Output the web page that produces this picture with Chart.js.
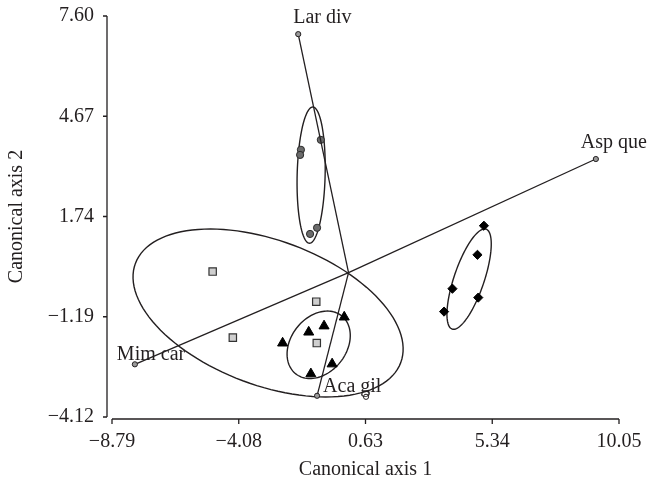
<!DOCTYPE html>
<html>
<head>
<meta charset="utf-8">
<script src="https://cdn.jsdelivr.net/npm/chart.js@4.4.1/dist/chart.umd.min.js"></script>
<style>
  html, body { margin: 0; padding: 0; background: #fff; }
  #wrap { width: 661px; height: 487px; }
</style>
</head>
<body>
<div id="wrap"><canvas id="cda"></canvas></div>
<script>
// Axis ticks
const xTicks = [-8.79, -4.08, 0.63, 5.34, 10.05];
const yTicks = [-4.12, -1.19, 1.74, 4.67, 7.60];

// Group scores (canonical axis 1 / 2)
const circleX = [-1.03, -1.77, -1.80, -1.17, -1.43];
const circleY = [3.98, 3.69, 3.54, 1.41, 1.23];
const squareX = [-5.05, -1.20, -4.30, -1.18];
const squareY = [0.13, -0.75, -1.80, -1.96];
const triangleX = [-2.45, -1.48, -0.91, -0.16, -0.61, -1.40];
const triangleY = [-1.96, -1.64, -1.46, -1.20, -2.57, -2.86];
const diamondX = [5.03, 4.79, 3.86, 4.82, 3.55];
const diamondY = [1.47, 0.62, -0.37, -0.63, -1.04];

// Species vectors (from origin)
const vectorOrigin = [0, 0.1];
const vectorNames = ['Lar div', 'Asp que', 'Mim car', 'Aca gil'];
const vectorX = [-1.87, 9.19, -7.94, -1.17];
const vectorY = [7.07, 3.42, -2.58, -3.50];
const extraX = [0.65];
const extraY = [-3.53];

// Group ellipses: centre and two conjugate semi-axis vectors (data units)
const ellipseCx = [-1.39, -2.99, -1.11, 4.48];
const ellipseCy = [2.95, -1.08, -2.01, -0.09];
const ellipseAx = [0.06, 4.93, 0.85, 0.63];
const ellipseAy = [1.99, -1.45, 0.85, 1.46];
const ellipseBx = [0.52, -0.94, 0.81, 0.53];
const ellipseBy = [0, -1.98, -0.50, -0.14];

const FONT = 'Liberation Serif';
const INK = '#231f20';

function pts(xs, ys) {
    return xs.map((x, i) => ({ x: x, y: ys[i] }));
}

function fmt(v) {
    return v.toFixed(2).replace('-', '\u2212');
}

const datasets = [];

// vectors first so markers sit above the lines
vectorNames.forEach((name, i) => {
    datasets.push({
        label: name,
        data: [{ x: vectorOrigin[0], y: vectorOrigin[1] }, { x: vectorX[i], y: vectorY[i] }],
        showLine: true,
        borderColor: INK,
        borderWidth: 1.3,
        pointRadius: [0, 2.6],
        pointBackgroundColor: '#9a9a9a',
        pointBorderColor: INK,
        pointBorderWidth: 1
    });
});

datasets.push({
    label: 'extra',
    data: pts(extraX, extraY),
    pointRadius: 2.6,
    pointBackgroundColor: '#ffffff',
    pointBorderColor: INK,
    pointBorderWidth: 1
});

datasets.push({
    label: 'circles',
    data: pts(circleX, circleY),
    pointStyle: 'circle',
    pointRadius: 3.6,
    pointBackgroundColor: '#6b6b6b',
    pointBorderColor: '#2a2a2a',
    pointBorderWidth: 1
});
datasets.push({
    label: 'squares',
    data: pts(squareX, squareY),
    pointStyle: 'rect',
    pointRadius: 5.2,
    pointBackgroundColor: '#cfcfcf',
    pointBorderColor: '#333333',
    pointBorderWidth: 1.2
});
datasets.push({
    label: 'triangles',
    data: pts(triangleX, triangleY),
    pointStyle: 'triangle',
    pointRadius: 5.8,
    pointBackgroundColor: '#000000',
    pointBorderColor: '#000000',
    pointBorderWidth: 1
});
datasets.push({
    label: 'diamonds',
    data: pts(diamondX, diamondY),
    pointStyle: 'rectRot',
    pointRadius: 4.6,
    pointBackgroundColor: '#000000',
    pointBorderColor: '#000000',
    pointBorderWidth: 1
});

// ellipses drawn through the scales
const ellipsePlugin = {
    id: 'ellipses',
    beforeDatasetsDraw(chart) {
        const ctx = chart.ctx;
        const sx = chart.scales.x, sy = chart.scales.y;
        ctx.save();
        ctx.strokeStyle = INK;
        ctx.lineWidth = 1.4;
        for (let e = 0; e < ellipseCx.length; e++) {
            ctx.beginPath();
            for (let k = 0; k <= 120; k++) {
                const t = k / 120 * Math.PI * 2;
                const vx = ellipseCx[e] + Math.cos(t) * ellipseAx[e] + Math.sin(t) * ellipseBx[e];
                const vy = ellipseCy[e] + Math.cos(t) * ellipseAy[e] + Math.sin(t) * ellipseBy[e];
                const px = sx.getPixelForValue(vx), py = sy.getPixelForValue(vy);
                if (k === 0) ctx.moveTo(px, py); else ctx.lineTo(px, py);
            }
            ctx.closePath();
            ctx.stroke();
        }
        ctx.restore();
    }
};

// axis lines with outward tick marks (the two axes do not touch)
const axesPlugin = {
    id: 'axesLines',
    afterDraw(chart) {
        const ctx = chart.ctx;
        const sx = chart.scales.x, sy = chart.scales.y;
        const area = chart.chartArea;
        const yAxisX = area.left - 5;
        const xAxisY = area.bottom + 2;
        ctx.save();
        ctx.strokeStyle = INK;
        ctx.lineWidth = 1.3;
        ctx.beginPath();
        ctx.moveTo(yAxisX, sy.getPixelForValue(yTicks[0]));
        ctx.lineTo(yAxisX, sy.getPixelForValue(yTicks[yTicks.length - 1]));
        yTicks.forEach(v => {
            const p = sy.getPixelForValue(v);
            ctx.moveTo(yAxisX - 4, p);
            ctx.lineTo(yAxisX, p);
        });
        ctx.moveTo(sx.getPixelForValue(xTicks[0]), xAxisY);
        ctx.lineTo(sx.getPixelForValue(xTicks[xTicks.length - 1]), xAxisY);
        xTicks.forEach(v => {
            const p = sx.getPixelForValue(v);
            ctx.moveTo(p, xAxisY);
            ctx.lineTo(p, xAxisY + 5);
        });
        ctx.stroke();
        ctx.restore();
    }
};

// vector labels
const labelOffsets = {
    'Lar div': [-5, -11],
    'Asp que': [-15, -11],
    'Mim car': [-18, -4],
    'Aca gil': [6, -4]
};
const labelPlugin = {
    id: 'vectorLabels',
    afterDatasetsDraw(chart) {
        const ctx = chart.ctx;
        const sx = chart.scales.x, sy = chart.scales.y;
        ctx.save();
        ctx.font = '20px "' + FONT + '"';
        ctx.fillStyle = INK;
        ctx.textAlign = 'left';
        ctx.textBaseline = 'alphabetic';
        vectorNames.forEach((name, i) => {
            const off = labelOffsets[name];
            ctx.fillText(name, sx.getPixelForValue(vectorX[i]) + off[0], sy.getPixelForValue(vectorY[i]) + off[1]);
        });
        ctx.restore();
    }
};

new Chart(document.getElementById('cda'), {
    type: 'scatter',
    data: { datasets: datasets },
    plugins: [ellipsePlugin, axesPlugin, labelPlugin],
    options: {
        responsive: true,
        maintainAspectRatio: false,
        animation: false,
        layout: { padding: { left: 0, right: 42, top: 16, bottom: 0 } },
        plugins: {
            legend: { display: false },
            tooltip: { enabled: false }
        },
        scales: {
            x: {
                type: 'linear',
                min: xTicks[0],
                max: xTicks[xTicks.length - 1],
                afterBuildTicks: scale => { scale.ticks = xTicks.map(v => ({ value: v })); },
                afterFit: scale => { scale.height = 70; },
                grid: { display: false, drawTicks: false },
                border: { display: false },
                ticks: {
                    autoSkip: false,
                    maxRotation: 0,
                    padding: 13,
                    color: INK,
                    font: { family: FONT, size: 20 },
                    callback: v => fmt(v)
                },
                title: {
                    display: true,
                    text: 'Canonical axis 1',
                    color: INK,
                    font: { family: FONT, size: 20 },
                    padding: { top: 0, bottom: 5 }
                }
            },
            y: {
                type: 'linear',
                min: yTicks[0],
                max: yTicks[yTicks.length - 1],
                afterBuildTicks: scale => { scale.ticks = yTicks.map(v => ({ value: v })); },
                afterFit: scale => {
                    scale.width = 112;
                    scale.paddingTop = 0;
                    scale.paddingBottom = 0;
                },
                grid: { display: false, drawTicks: false },
                border: { display: false },
                ticks: {
                    autoSkip: false,
                    padding: 18,
                    color: INK,
                    font: { family: FONT, size: 20 },
                    callback: v => fmt(v)
                },
                title: {
                    display: true,
                    text: 'Canonical axis 2',
                    color: INK,
                    font: { family: FONT, size: 20 },
                    padding: { top: 5, bottom: 0 }
                }
            }
        }
    }
});
</script>
</body>
</html>
